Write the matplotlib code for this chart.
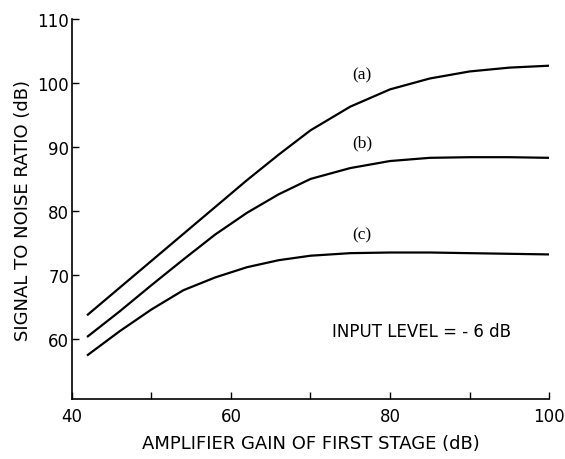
import numpy as np
import matplotlib
matplotlib.use("Agg")
import matplotlib.pyplot as plt

# values
gain_db = [42, 46, 50, 54, 58, 62, 66, 70, 75, 80, 85, 90, 95, 100]
snr_a = [63.8, 68.0, 72.2, 76.4, 80.6, 84.8, 88.8, 92.6, 96.3, 99.0, 100.7, 101.8, 102.4, 102.7]
snr_b = [60.4, 64.3, 68.4, 72.4, 76.3, 79.7, 82.6, 85.0, 86.7, 87.8, 88.3, 88.4, 88.4, 88.3]
snr_c = [57.5, 61.2, 64.6, 67.6, 69.6, 71.2, 72.3, 73.0, 73.4, 73.5, 73.5, 73.4, 73.3, 73.2]
curve_names = ["(a)", "(b)", "(c)"]
name_pos = [(76.5, 101.3), (76.5, 90.7), (76.5, 76.4)]

x_ticks = [40, 50, 60, 70, 80, 90, 100]
x_ticklabels = ["40", "", "60", "", "80", "", "100"]
y_ticks = [60, 70, 80, 90, 100, 110]

fig = plt.figure(figsize=(5.65, 4.6), dpi=100)
ax = fig.add_axes([0.1274, 0.1304, 0.8443, 0.8261])

for snr in (snr_a, snr_b, snr_c):
    ax.plot(gain_db, snr, color="black", linewidth=1.6)

for name, (xp, yp) in zip(curve_names, name_pos):
    ax.text(xp, yp, name, family="Liberation Serif", fontsize=12.5,
            ha="center", va="center")

ax.text(84.0, 61.3, "INPUT LEVEL = - 6 dB", fontsize=12, ha="center",
        va="center")

ax.set_xlim(40, 100)
ax.set_ylim(50.6, 110)
ax.set_xticks(x_ticks)
ax.set_xticklabels(x_ticklabels)
ax.set_yticks(y_ticks)
ax.tick_params(direction="in", length=5, width=1, labelsize=12)
ax.tick_params(axis="x", pad=6)
ax.tick_params(axis="y", pad=2)

for side in ("top", "right"):
    ax.spines[side].set_visible(False)
for side in ("left", "bottom"):
    ax.spines[side].set_linewidth(1.2)

ax.set_xlabel("AMPLIFIER GAIN OF FIRST STAGE (dB)", fontsize=13, labelpad=6)
ax.set_ylabel("SIGNAL TO NOISE RATIO (dB)", fontsize=13, labelpad=4)

fig.savefig("out.png", dpi=100)
